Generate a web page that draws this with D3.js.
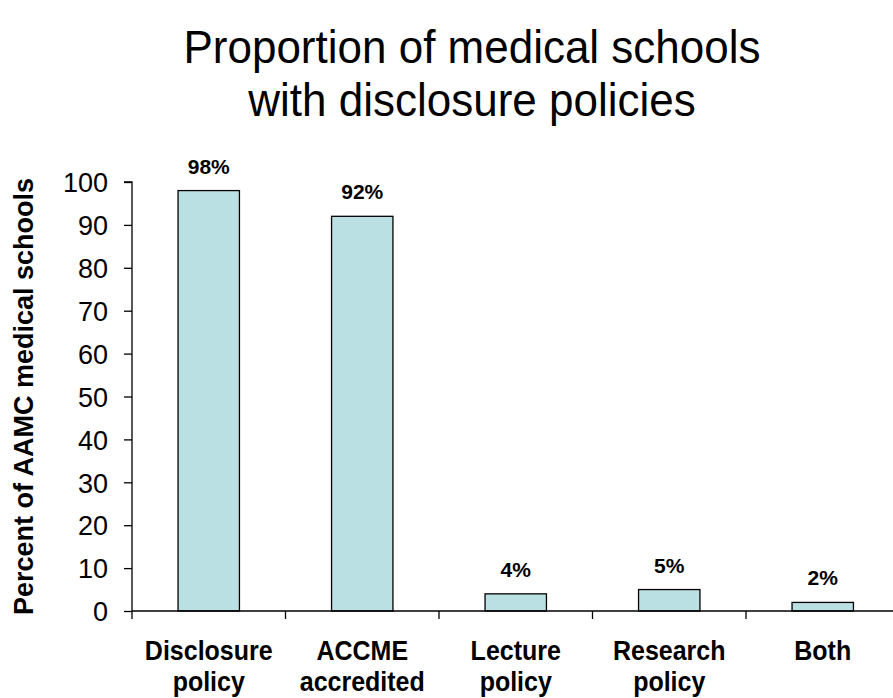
<!DOCTYPE html>
<html>
<head>
<meta charset="utf-8">
<script src="https://cdn.jsdelivr.net/npm/d3@7"></script>
<style>
  html, body { margin: 0; padding: 0; background: #fff; }
  svg { display: block; font-family: "Liberation Sans", Arial, sans-serif; }
</style>
</head>
<body>
<svg id="chart" width="893" height="698"></svg>
<script>
// Share of medical schools with each kind of disclosure policy
const categories = [
  ["Disclosure", "policy"],
  ["ACCME", "accredited"],
  ["Lecture", "policy"],
  ["Research", "policy"],
  ["Both"]
];
const values = [98, 92, 4, 5, 2];
const valueLabels = ["98%", "92%", "4%", "5%", "2%"];
const yTicks = [0, 10, 20, 30, 40, 50, 60, 70, 80, 90, 100];
const titleLines = ["Proportion of medical schools", "with disclosure policies"];
const yTitle = "Percent of AAMC medical schools";

const svg = d3.select("#chart");
const margin = { left: 132, top: 182, bottom: 611 };
const bandStep = 153.5;
const tallText = 1.1; // slight vertical stretch for category text

const x = d3.scaleBand()
  .domain(d3.range(categories.length))
  .range([margin.left, margin.left + bandStep * categories.length])
  .paddingInner(0.6)
  .paddingOuter(0.3);

const y = d3.scaleLinear().domain([0, 100]).range([margin.bottom, margin.top]);

// Title
svg.append("g")
  .selectAll("text")
  .data(titleLines)
  .join("text")
  .attr("transform", (d, i) => `translate(472,${63 + i * 53}) scale(1,1.04)`)
  .attr("text-anchor", "middle")
  .attr("font-size", 44)
  .attr("fill", "#000")
  .text(d => d);

// Bars
svg.append("g")
  .selectAll("rect")
  .data(values)
  .join("rect")
  .attr("x", (d, i) => x(i))
  .attr("y", d => y(d))
  .attr("width", x.bandwidth())
  .attr("height", d => y(0) - y(d))
  .attr("fill", "#bbe0e3")
  .attr("stroke", "#000")
  .attr("stroke-width", 1.3);

// Value labels
svg.append("g")
  .selectAll("text")
  .data(values)
  .join("text")
  .attr("x", (d, i) => x(i) + x.bandwidth() / 2)
  .attr("y", d => y(d) - 17)
  .attr("text-anchor", "middle")
  .attr("font-size", 21)
  .attr("font-weight", "bold")
  .text((d, i) => valueLabels[i]);

// Y axis
const yAxis = svg.append("g")
  .attr("transform", `translate(${margin.left},0)`)
  .call(d3.axisLeft(y).tickValues(yTicks).tickSize(8).tickPadding(16));
yAxis.select(".domain").attr("stroke", "#000").attr("stroke-width", 1.3)
  .attr("d", `M-8,${y(100)}H0V${y(0)}`);
yAxis.selectAll(".tick line").attr("stroke", "#000").attr("stroke-width", 1.3);
yAxis.selectAll(".tick text")
  .attr("font-size", 27)
  .attr("font-family", "Liberation Sans, Arial, sans-serif")
  .attr("fill", "#000")
  .attr("dy", "0.36em");

// X axis line with ticks between categories
const xEnd = 893;
svg.append("line")
  .attr("x1", margin.left).attr("x2", xEnd)
  .attr("y1", y(0)).attr("y2", y(0))
  .attr("stroke", "#000").attr("stroke-width", 1.3);
svg.append("g")
  .selectAll("line")
  .data(d3.range(categories.length))
  .join("line")
  .attr("x1", i => x(i) - x.step() * 0.3)
  .attr("x2", i => x(i) - x.step() * 0.3)
  .attr("y1", y(0))
  .attr("y2", y(0) + 8)
  .attr("stroke", "#000").attr("stroke-width", 1.3);

// Category labels
const cat = svg.append("g")
  .selectAll("text")
  .data(categories)
  .join("text")
  .attr("transform", (d, i) => `translate(${x(i) + x.bandwidth() / 2},660) scale(1,${tallText})`)
  .attr("text-anchor", "middle")
  .attr("font-size", 25)
  .attr("font-weight", "bold");
cat.selectAll("tspan")
  .data(d => d)
  .join("tspan")
  .attr("x", 0)
  .attr("dy", (d, i) => i === 0 ? 0 : 28.5)
  .text(d => d);

// Y axis title
svg.append("text")
  .attr("transform", `translate(33,${(y(0) + y(100)) / 2}) rotate(-90)`)
  .attr("text-anchor", "middle")
  .attr("font-size", 27)
  .attr("font-weight", "bold")
  .text(yTitle);
</script>
</body>
</html>
